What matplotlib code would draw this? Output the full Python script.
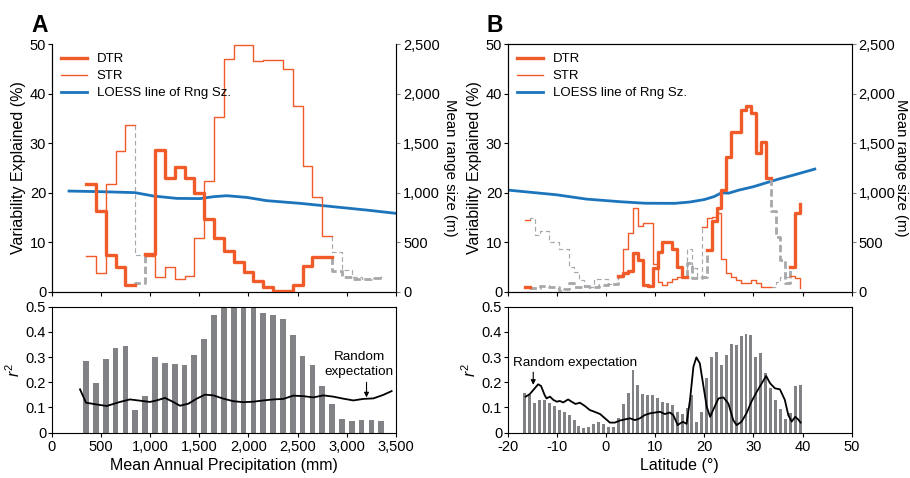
import matplotlib
matplotlib.use('Agg')
import matplotlib.pyplot as plt
import numpy as np
from matplotlib.lines import Line2D
from matplotlib.ticker import FuncFormatter

plt.rcParams['font.family'] = ['Liberation Sans', 'DejaVu Sans']
plt.rcParams['mathtext.fontset'] = 'custom'
plt.rcParams['mathtext.it'] = 'Liberation Sans:italic'
plt.rcParams['mathtext.rm'] = 'Liberation Sans'
plt.rcParams['axes.unicode_minus'] = False
plt.rcParams['xtick.labelsize'] = 10.5
plt.rcParams['ytick.labelsize'] = 10.5
plt.rcParams['axes.labelsize'] = 11.5

ORANGE = '#f15a29'
BLUE = '#1c75bc'
GRAY = '#a7a9ac'
BARC = '#808285'

# ---- panel A : precipitation ----
precip = np.arange(350, 3351, 100)
a_r2 = [0.284, 0.196, 0.291, 0.335, 0.343, 0.089, 0.144, 0.299, 0.275, 0.271,
        0.267, 0.307, 0.370, 0.466, 0.5, 0.5, 0.5, 0.5, 0.474, 0.466,
        0.450, 0.386, 0.303, 0.267, 0.184, 0.112, 0.053, 0.045, 0.049, 0.049, 0.045]
a_dtr = [21.7, 16.2, 7.4, 4.9, 1.3, 1.7, 7.7, 28.6, 22.9, 25.1,
         22.9, 20.0, 14.7, 10.8, 8.3, 5.9, 4.0, 2.1, 0.9, 0.1,
         0.1, 1.3, 5.2, 7.1, 7.0, 4.2, 3.0, 2.5, 2.6, 2.7, 3.4]
a_str = [7.3, 3.8, 21.7, 28.5, 33.7, 7.5, 7.3, 3.0, 5.0, 2.5,
         3.2, 10.9, 22.4, 35.3, 46.9, 49.8, 49.8, 46.6, 46.8, 46.8,
         45.0, 37.5, 25.4, 19.2, 11.3, 8.1, 4.4, 3.0, 2.6, 2.7, 3.2]
# 1 = significant (orange), 0 = not (grey dashed)
a_sig = [1, 1, 1, 1, 1, 0, 1, 1, 1, 1, 1, 1, 1, 1, 1, 1, 1, 1, 1, 1,
         1, 1, 1, 1, 1, 0, 0, 0, 0, 0, 0]
a_loess_x = [176, 491, 847, 1034, 1271, 1508, 1643, 1779, 1982, 2186, 2525, 2864, 3202, 3500]
a_loess_m = [1016, 1010, 1000, 966, 942, 940, 959, 969, 952, 919, 892, 858, 824, 791]
a_rand_x = [288, 349, 457, 559, 694, 796, 898, 999, 1067, 1152, 1220, 1304, 1389, 1474,
            1558, 1643, 1745, 1846, 1948, 2049, 2151, 2253, 2354, 2456, 2558, 2659,
            2761, 2862, 2964, 3066, 3167, 3269, 3371, 3455]
a_rand_y = [0.172, 0.119, 0.112, 0.106, 0.122, 0.132, 0.127, 0.122, 0.128, 0.138,
            0.125, 0.107, 0.115, 0.135, 0.151, 0.148, 0.135, 0.125, 0.121, 0.123,
            0.128, 0.132, 0.134, 0.147, 0.145, 0.14, 0.148, 0.143, 0.135, 0.128,
            0.134, 0.136, 0.15, 0.165]

# ---- panel B : latitude ----
lat = np.arange(-16.5, 39.6, 1.0)
b_r2 = [0.156, 0.149, 0.116, 0.13, 0.13, 0.116, 0.106, 0.09, 0.081, 0.07,
        0.05, 0.026, 0.02, 0.024, 0.034, 0.041, 0.034, 0.024, 0.024, 0.06,
        0.114, 0.156, 0.249, 0.19, 0.152, 0.15, 0.15, 0.139, 0.122, 0.116,
        0.11, 0.082, 0.074, 0.097, 0.15, 0.044, 0.083, 0.218, 0.302, 0.319,
        0.269, 0.308, 0.352, 0.348, 0.384, 0.392, 0.388, 0.3, 0.315, 0.238,
        0.176, 0.13, 0.093, 0.054, 0.08, 0.185, 0.189]
b_dtr = [1.0, 0.7, 0.7, 1.1, 1.1, 0.9, 0.9, 0.1, 0.6, 1.8,
         1.0, 0.9, 1.2, 0.9, 0.9, 1.3, 1.3, 1.5, 1.5, 3.2,
         3.8, 4.2, 7.9, 6.5, 1.3, 1.2, 4.7, 8.1, 10.1, 10.1,
         8.6, 5.0, 3.0, 5.8, 2.8, 2.8, 3.0, 8.4, 14.3, 17.0,
         20.5, 27.1, 32.2, 32.2, 36.7, 37.4, 36.0, 28.1, 30.3, 22.9,
         16.3, 11.0, 6.5, 1.7, 4.9, 15.8, 17.8]
b_dtr_sig = [1] + [0] * 18 + [1] * 14 + [0] * 4 + [1] * 13 + [0] * 4 + [1] * 3
b_str = [14.5, 14.9, 11.5, 12.2, 12.2, 10.1, 10.1, 8.7, 8.7, 5.0,
         3.9, 2.4, 1.0, 1.0, 2.6, 2.6, 2.6, 1.5, 1.5, 3.0,
         8.6, 11.8, 16.9, 13.3, 13.8, 13.8, 5.5, 1.9, 1.3, 1.9,
         2.5, 3.0, 3.0, 8.7, 4.8, 3.0, 13.0, 14.8, 15.1, 15.8,
         6.7, 3.7, 3.0, 2.3, 1.7, 1.7, 2.4, 1.8, 1.0, 1.0,
         1.0, 2.0, 3.0, 3.0, 3.2, 2.7, 0.7]
b_str_sig = [1] + [0] * 18 + [1] * 14 + [0] * 3 + [1] * 14 + [0] * 4 + [1] * 3
b_loess_x = [-20, -10, -4, 3, 8, 14, 17, 20, 22, 23.5, 25, 27, 30, 35, 38, 42.5]
b_loess_m = [1026, 978, 935, 908, 893, 892, 905, 930, 960, 998, 995, 1025, 1060, 1135, 1175, 1238]
b_rand_x = [-16.35, -15.5, -14.5, -13.8, -13.2, -12.5, -12.1, -11.4, -10.7, -10.0,
            -9.4, -8.7, -7.7, -7.0, -6.2, -5.3, -4.3, -3.3, -2.2, -1.2,
            -0.2, 0.8, 1.8, 2.8, 3.9, 4.9, 5.9, 6.9, 7.9, 9.0,
            10.0, 11.0, 12.0, 13.0, 13.7, 14.6, 15.1, 15.7, 16.4, 17.1,
            17.8, 18.4, 19.1, 19.8, 20.5, 21.2, 21.8, 22.9, 23.9, 24.9,
            25.9, 26.6, 27.6, 28.6, 29.6, 30.7, 31.7, 32.6, 33.4, 34.4,
            35.4, 36.4, 37.1, 37.8, 38.5, 39.1, 39.6]
b_rand_y = [0.143, 0.153, 0.176, 0.192, 0.185, 0.15, 0.136, 0.143, 0.13, 0.123,
            0.126, 0.12, 0.132, 0.123, 0.114, 0.119, 0.106, 0.09, 0.082, 0.074,
            0.057, 0.04, 0.04, 0.048, 0.053, 0.057, 0.05, 0.057, 0.07, 0.077,
            0.08, 0.083, 0.074, 0.08, 0.07, 0.03, 0.037, 0.043, 0.035, 0.13,
            0.262, 0.299, 0.275, 0.189, 0.103, 0.063, 0.09, 0.136, 0.14, 0.116,
            0.05, 0.03, 0.044, 0.077, 0.123, 0.163, 0.196, 0.225, 0.196, 0.176,
            0.172, 0.13, 0.07, 0.044, 0.063, 0.053, 0.04]


def comma(v, pos):
    return '{:,.0f}'.format(v)


def draw_steps(ax, x, v, sig, lw, dash):
    # orange where significant, grey dashed where not
    n = len(x)
    i = 0
    while i < n:
        j = i
        while j + 1 < n and sig[j + 1] == sig[i]:
            j += 1
        xs = list(x[i:j + 1])
        ys = list(v[i:j + 1])
        if j + 1 < n:
            xs.append(x[j + 1])
            ys.append(v[j] if sig[i] else v[j + 1])
        if sig[i]:
            ax.step(xs, ys, where='post', color=ORANGE, lw=lw, zorder=4)
        else:
            if i > 0:
                xs.insert(0, x[i])
                ys.insert(0, v[i - 1])
            ax.step(xs, ys, where='post', color=GRAY, lw=lw * 0.85, ls=dash, zorder=3)
        i = j + 1


def setup_top(ax, ax2, xlim, xticks, top_spine, rlab_x):
    ax.set_xlim(*xlim)
    ax.set_ylim(0, 50)
    ax.set_yticks(range(0, 51, 10))
    ax.set_xticks(xticks)
    ax.set_xticklabels([])
    ax.tick_params(direction='out', length=3, width=0.8, pad=1)
    ax.set_ylabel('Variability Explained (%)', labelpad=3)
    ax2.set_ylim(0, 2500)
    ax2.set_yticks(range(0, 2501, 500))
    ax2.yaxis.set_major_formatter(FuncFormatter(comma))
    ax2.tick_params(direction='out', length=3, width=0.8, pad=2, color='#808285')
    ax2.spines['right'].set_color('#808285')
    ax2.set_ylabel('Mean range size (m)', rotation=270, va='bottom', fontsize=10.8)
    ax2.yaxis.set_label_coords(rlab_x, 0.5)
    for a in (ax, ax2):
        a.spines['top'].set_visible(top_spine)
    ax.patch.set_visible(False)
    handles = [Line2D([], [], color=ORANGE, lw=2.4),
               Line2D([], [], color=ORANGE, lw=1.0),
               Line2D([], [], color=BLUE, lw=2.0)]
    ax.legend(handles, ['DTR', 'STR', 'LOESS line of Rng Sz.'], loc='upper left',
              frameon=False, fontsize=9.5, handlelength=2.0, handletextpad=0.7,
              labelspacing=0.35, borderaxespad=0.3)


def setup_bottom(ax, xlim, xticks, xlabel):
    ax.set_xlim(*xlim)
    ax.set_ylim(0, 0.5)
    ax.set_yticks([0, 0.1, 0.2, 0.3, 0.4, 0.5])
    ax.set_yticklabels(['0', '0.1', '0.2', '0.3', '0.4', '0.5'])
    ax.set_xticks(xticks)
    ax.tick_params(direction='out', length=3, width=0.8, pad=1)
    ax.tick_params(axis='x', pad=2)
    ax.set_ylabel('$r^2$', labelpad=2)
    ax.set_xlabel(xlabel, labelpad=3)


fig = plt.figure(figsize=(9.1, 4.78), dpi=100)

# panel A
axA = fig.add_axes([0.0568, 0.3897, 0.3784, 0.5182])
axA2 = axA.twinx()
axA.set_zorder(axA2.get_zorder() + 1)
axA2.plot(a_loess_x, a_loess_m, color=BLUE, lw=2.0)
draw_steps(axA, precip, a_dtr, a_sig, 2.4, (0, (2.6, 1.2)))
draw_steps(axA, precip, a_str, a_sig, 1.0, (0, (4, 2.5)))
setup_top(axA, axA2, (0, 3500), range(0, 3501, 500), False, 1.136)

axAb = fig.add_axes([0.0568, 0.0948, 0.3784, 0.2636])
axAb.bar(precip, a_r2, width=58, color=BARC)
axAb.plot(a_rand_x, a_rand_y, color='black', lw=1.3)
setup_bottom(axAb, (0, 3500), range(0, 3501, 500), 'Mean Annual Precipitation (mm)')
axAb.xaxis.set_major_formatter(FuncFormatter(comma))
axAb.text(3124, 0.27, 'Random\nexpectation', ha='center', va='center', fontsize=9.7,
          linespacing=1.3)
axAb.annotate('', xy=(3200, 0.14), xytext=(3200, 0.2),
              arrowprops=dict(arrowstyle='-|>', color='black', lw=0.8,
                              mutation_scale=7, shrinkA=0, shrinkB=0))

# panel B
axB = fig.add_axes([0.5579, 0.3897, 0.378, 0.5182])
axB2 = axB.twinx()
axB.set_zorder(axB2.get_zorder() + 1)
axB2.plot(b_loess_x, b_loess_m, color=BLUE, lw=2.0)
draw_steps(axB, lat, b_dtr, b_dtr_sig, 2.4, (0, (2.6, 1.2)))
draw_steps(axB, lat, b_str, b_str_sig, 1.0, (0, (4, 2.5)))
setup_top(axB, axB2, (-20, 50), range(-20, 51, 10), True, 1.124)

axBb = fig.add_axes([0.5579, 0.0948, 0.378, 0.2636])
axBb.bar(lat, b_r2, width=0.6, color=BARC)
axBb.plot(b_rand_x, b_rand_y, color='black', lw=1.3)
setup_bottom(axBb, (-20, 50), range(-20, 51, 10), 'Latitude (°)')
axBb.text(-18.9, 0.275, 'Random expectation', ha='left', va='center', fontsize=9.7)
axBb.annotate('', xy=(-14.8, 0.19), xytext=(-14.8, 0.24),
              arrowprops=dict(arrowstyle='-|>', color='black', lw=0.8,
                              mutation_scale=7, shrinkA=0, shrinkB=0))

fig.text(0.035, 0.933, 'A', fontsize=16.5, fontweight='bold')
fig.text(0.535, 0.933, 'B', fontsize=16.5, fontweight='bold')

fig.savefig('out.png', dpi=100)
